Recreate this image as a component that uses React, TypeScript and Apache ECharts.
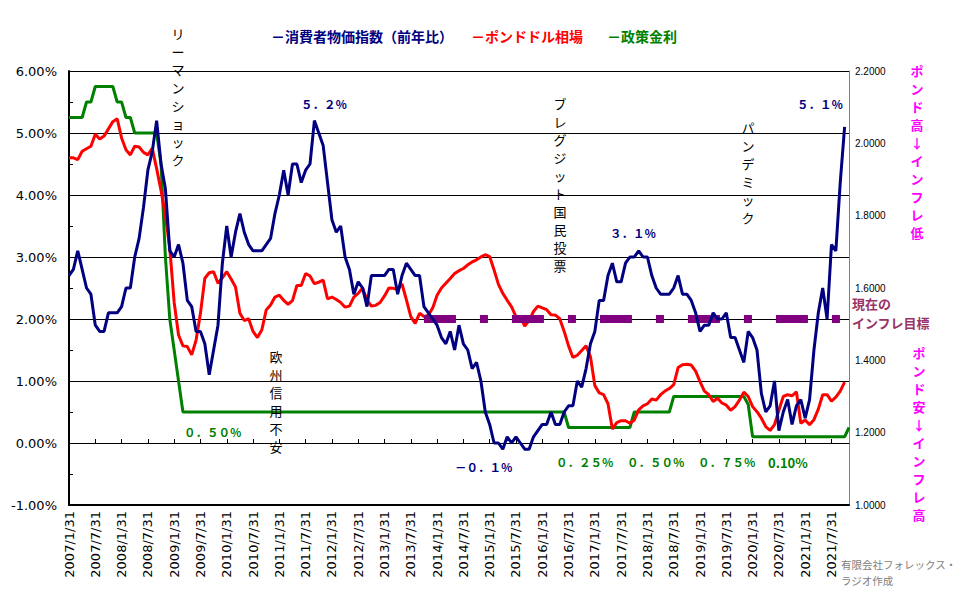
import React, { useEffect, useRef } from 'react';
import * as echarts from 'echarts';

// ---- categories: month-end dates 2007/1 .. 2021/11 ----
const firstYear = 2007;
const monthTotal = 179;
const categories: string[] = [];
for (let i = 0; i < monthTotal; i++) {
  const y = firstYear + Math.floor(i / 12);
  const m = (i % 12) + 1;
  const d = new Date(y, m, 0).getDate();
  categories.push(`${y}/${m}/${d}`);
}

// 消費者物価指数(前年比) %
const cpi: (number | null)[] = [
  2.7, 2.8, 3.1, 2.8, 2.5, 2.4, 1.9, 1.8, 1.8, 2.1, 2.1, 2.1,
  2.2, 2.5, 2.5, 3.0, 3.3, 3.8, 4.4, 4.7, 5.2, 4.5, 4.1, 3.1,
  3.0, 3.2, 2.9, 2.3, 2.2, 1.8, 1.8, 1.6, 1.1, 1.5, 1.9, 2.9,
  3.5, 3.0, 3.4, 3.7, 3.4, 3.2, 3.1, 3.1, 3.1, 3.2, 3.3, 3.7,
  4.0, 4.4, 4.0, 4.5, 4.5, 4.2, 4.4, 4.5, 5.2, 5.0, 4.8, 4.2,
  3.6, 3.4, 3.5, 3.0, 2.8, 2.4, 2.6, 2.5, 2.2, 2.7, 2.7, 2.7,
  2.7, 2.8, 2.8, 2.4, 2.7, 2.9, 2.8, 2.7, 2.7, 2.2, 2.1, 2.0,
  1.9, 1.7, 1.6, 1.8, 1.5, 1.9, 1.6, 1.5, 1.2, 1.3, 1.0, 0.5,
  0.3, 0.0, 0.0, -0.1, 0.1, 0.0, 0.1, 0.0, -0.1, -0.1, 0.1, 0.2,
  0.3, 0.3, 0.5, 0.3, 0.3, 0.5, 0.6, 0.6, 1.0, 0.9, 1.2, 1.6,
  1.8, 2.3, 2.3, 2.7, 2.9, 2.6, 2.6, 2.9, 3.0, 3.0, 3.1, 3.0,
  3.0, 2.7, 2.5, 2.4, 2.4, 2.4, 2.5, 2.7, 2.4, 2.4, 2.3, 2.1,
  1.8, 1.9, 1.9, 2.1, 2.0, 2.0, 2.1, 1.7, 1.7, 1.5, 1.3, 1.8,
  1.7, 1.5, 0.8, 0.5, 0.6, 1.0, 0.2, 0.5, 0.7, 0.3, 0.6, 0.7,
  0.4, 0.7, 1.5, 2.1, 2.5, 2.0, 3.2, 3.1, 4.2, 5.1, null,
];

// ポンドドル相場
const gbpusd: (number | null)[] = [
  1.960, 1.960, 1.955, 1.978, 1.985, 1.992, 2.025, 2.012, 2.020, 2.040, 2.060, 2.068,
  2.015, 1.982, 1.968, 1.992, 1.990, 1.975, 1.968, 1.986, 1.930, 1.870, 1.800, 1.710,
  1.560, 1.470, 1.440, 1.438, 1.415, 1.456, 1.530, 1.627, 1.642, 1.645, 1.613, 1.628,
  1.645, 1.625, 1.603, 1.530, 1.510, 1.515, 1.480, 1.463, 1.484, 1.539, 1.553, 1.575,
  1.580, 1.566, 1.555, 1.565, 1.607, 1.607, 1.640, 1.633, 1.612, 1.616, 1.622, 1.570,
  1.575, 1.568, 1.560, 1.547, 1.550, 1.575, 1.585, 1.600, 1.567, 1.550, 1.552, 1.560,
  1.578, 1.600, 1.599, 1.596, 1.611, 1.567, 1.521, 1.502, 1.530, 1.521, 1.525, 1.545,
  1.580, 1.600, 1.613, 1.626, 1.640, 1.648, 1.654, 1.664, 1.672, 1.678, 1.686, 1.692,
  1.687, 1.650, 1.610, 1.585, 1.566, 1.548, 1.521, 1.520, 1.495, 1.510, 1.535, 1.550,
  1.545, 1.540, 1.526, 1.525, 1.515, 1.480, 1.440, 1.408, 1.414, 1.427, 1.440, 1.410,
  1.330, 1.310, 1.305, 1.280, 1.210, 1.228, 1.233, 1.233, 1.226, 1.235, 1.263, 1.274,
  1.280, 1.293, 1.290, 1.305, 1.315, 1.322, 1.333, 1.380, 1.388, 1.389, 1.387, 1.370,
  1.341, 1.315, 1.305, 1.286, 1.295, 1.282, 1.276, 1.262, 1.272, 1.290, 1.312, 1.300,
  1.272, 1.258, 1.240, 1.217, 1.206, 1.222, 1.262, 1.300, 1.305, 1.302, 1.313, 1.226,
  1.235, 1.222, 1.236, 1.265, 1.305, 1.305, 1.287, 1.298, 1.315, 1.340, null,
];

// 政策金利 %
const bankRate: number[] = [
  5.25, 5.25, 5.25, 5.25, 5.5, 5.5, 5.75, 5.75, 5.75, 5.75, 5.75, 5.5,
  5.5, 5.25, 5.25, 5.0, 5.0, 5.0, 5.0, 5.0, 5.0, 4.5, 3.0, 2.0,
  1.5, 1.0, 0.5, 0.5, 0.5, 0.5, 0.5, 0.5, 0.5, 0.5, 0.5, 0.5,
  0.5, 0.5, 0.5, 0.5, 0.5, 0.5, 0.5, 0.5, 0.5, 0.5, 0.5, 0.5,
  0.5, 0.5, 0.5, 0.5, 0.5, 0.5, 0.5, 0.5, 0.5, 0.5, 0.5, 0.5,
  0.5, 0.5, 0.5, 0.5, 0.5, 0.5, 0.5, 0.5, 0.5, 0.5, 0.5, 0.5,
  0.5, 0.5, 0.5, 0.5, 0.5, 0.5, 0.5, 0.5, 0.5, 0.5, 0.5, 0.5,
  0.5, 0.5, 0.5, 0.5, 0.5, 0.5, 0.5, 0.5, 0.5, 0.5, 0.5, 0.5,
  0.5, 0.5, 0.5, 0.5, 0.5, 0.5, 0.5, 0.5, 0.5, 0.5, 0.5, 0.5,
  0.5, 0.5, 0.5, 0.5, 0.5, 0.5, 0.25, 0.25, 0.25, 0.25, 0.25, 0.25,
  0.25, 0.25, 0.25, 0.25, 0.25, 0.25, 0.25, 0.25, 0.25, 0.5, 0.5, 0.5,
  0.5, 0.5, 0.5, 0.5, 0.5, 0.5, 0.75, 0.75, 0.75, 0.75, 0.75, 0.75,
  0.75, 0.75, 0.75, 0.75, 0.75, 0.75, 0.75, 0.75, 0.75, 0.75, 0.75, 0.62,
  0.1, 0.1, 0.1, 0.1, 0.1, 0.1, 0.1, 0.1, 0.1, 0.1, 0.1, 0.1,
  0.1, 0.1, 0.1, 0.1, 0.1, 0.1, 0.1, 0.1, 0.1, 0.1, 0.25,
];

// 現在のインフレ目標
const targetRate = 2;
const targetFrom = '2013/10/31';
const targetTo = '2021/11/30';

const leftTicks = { min: -1, max: 6, interval: 1 };
const rightTicks = { min: 1, max: 2.2, interval: 0.2 };

const JP = '"Noto Sans CJK JP", sans-serif';
const NAVY = '#000080';
const GREEN = '#008000';
const MAGENTA = '#FF00FF';

function vText(str: string, cx: number, firstY: number, color: string, size: number, bold: boolean) {
  return {
    type: 'text',
    x: cx,
    y: firstY - 9,
    z: 100,
    style: {
      text: Array.from(str).join('\n'),
      align: 'center',
      verticalAlign: 'top',
      lineHeight: 18,
      fontSize: size,
      fontFamily: JP,
      fontWeight: bold ? 'bold' : 'normal',
      fill: color,
    },
  };
}

function hText(str: string, x: number, y: number, color: string, size: number, bold: boolean) {
  return {
    type: 'text',
    x,
    y,
    z: 100,
    style: {
      text: str,
      align: 'left',
      verticalAlign: 'middle',
      fontSize: size,
      fontFamily: JP,
      fontWeight: bold ? 'bold' : 'normal',
      fill: color,
    },
  };
}

export default function App() {
  const ref = useRef<HTMLDivElement>(null);
  useEffect(() => {
    if (!ref.current) return;
    const chart = echarts.init(ref.current, undefined, { renderer: 'svg' });
    chart.setOption({
      animation: false,
      backgroundColor: '#ffffff',
      grid: { left: 69, right: 115, top: 71, bottom: 95, containLabel: false },
      xAxis: [
        {
          type: 'category',
          data: categories,
          boundaryGap: false,
          position: 'bottom',
          axisLine: { onZero: false, lineStyle: { color: '#000', width: 2 } },
          axisTick: { show: false },
          axisLabel: {
            interval: 5,
            rotate: 90,
            fontSize: 13,
            fontFamily: '"DejaVu Sans", sans-serif',
            color: '#000',
            margin: 6,
          },
          splitLine: { show: false },
        },
        {
          type: 'category',
          data: categories,
          boundaryGap: false,
          position: 'bottom',
          axisLine: { onZero: true, lineStyle: { color: '#000', width: 1 } },
          axisTick: { show: true, interval: 5, inside: true, length: 4, lineStyle: { color: '#000' } },
          axisLabel: { show: false },
          splitLine: { show: false },
        },
      ],
      yAxis: [
        {
          type: 'value',
          position: 'left',
          min: leftTicks.min,
          max: leftTicks.max,
          interval: leftTicks.interval,
          axisLine: { show: true, onZero: false, lineStyle: { color: '#000', width: 2 } },
          axisTick: { show: true, inside: true, length: 4, lineStyle: { color: '#000' } },
          minorTick: { show: true, splitNumber: 2, length: 4, lineStyle: { color: '#000' } },
          axisLabel: {
            formatter: (v: number) => v.toFixed(2) + '%',
            fontSize: 13,
            fontFamily: '"DejaVu Sans", sans-serif',
            color: '#000',
            margin: 12,
          },
          splitLine: { show: true, lineStyle: { color: '#000', width: 1 } },
        },
        {
          type: 'value',
          position: 'right',
          min: rightTicks.min,
          max: rightTicks.max,
          interval: rightTicks.interval,
          axisLine: { show: true, onZero: false, lineStyle: { color: '#808080', width: 1 } },
          axisTick: { show: false },
          axisLabel: {
            formatter: (v: number) => v.toFixed(4),
            fontSize: 10,
            fontFamily: '"Liberation Sans", sans-serif',
            color: '#000',
            margin: 6,
          },
          splitLine: { show: false },
        },
      ],
      series: [
        {
          name: '政策金利',
          type: 'line',
          xAxisIndex: 0,
          yAxisIndex: 0,
          data: bankRate,
          symbol: 'none',
          lineStyle: { color: GREEN, width: 3 },
          itemStyle: { color: GREEN },
        },
        {
          name: 'ポンドドル相場',
          type: 'line',
          xAxisIndex: 0,
          yAxisIndex: 1,
          data: gbpusd,
          symbol: 'none',
          lineStyle: { color: '#FF0000', width: 3 },
          itemStyle: { color: '#FF0000' },
        },
        {
          name: '現在のインフレ目標',
          type: 'line',
          xAxisIndex: 0,
          yAxisIndex: 0,
          data: [
            [targetFrom, targetRate],
            [targetTo, targetRate],
          ],
          symbol: 'none',
          lineStyle: { color: '#800080', width: 8, type: [32, 24, 8, 24], cap: 'butt' },
          itemStyle: { color: '#800080' },
        },
        {
          name: '消費者物価指数(前年比)',
          type: 'line',
          xAxisIndex: 0,
          yAxisIndex: 0,
          data: cpi,
          symbol: 'none',
          lineStyle: { color: NAVY, width: 3 },
          itemStyle: { color: NAVY },
        },
      ],
      graphic: [
        // legend
        hText('－消費者物価指数（前年比）', 271, 36, NAVY, 14, true),
        hText('－ポンドドル相場', 471, 36, '#FF0000', 14, true),
        hText('－政策金利', 607, 36, GREEN, 14, true),
        // event annotations
        vText('リーマンショック', 178, 33, '#000', 13, false),
        vText('欧州信用不安', 276, 356, '#000', 13, false),
        vText('ブレグジット国民投票', 560, 103, '#000', 13, false),
        vText('パンデミック', 748, 127, '#000', 13, false),
        // value labels
        hText('５．２％', 301, 104, NAVY, 11.5, true),
        hText('５．１％', 797, 104, NAVY, 11.5, true),
        hText('３．１％', 610, 233, NAVY, 11.5, true),
        hText('－０．１％', 455, 467, NAVY, 11.5, true),
        hText('０．５０％', 184, 432, GREEN, 11.5, true),
        hText('０．２５％', 556, 462, GREEN, 11.5, true),
        hText('０．５０％', 627, 462, GREEN, 11.5, true),
        hText('０．７５％', 698, 462, GREEN, 11.5, true),
        hText('0.10%', 768, 462, GREEN, 13, true),
        // right side notes
        vText('ポンド高↓インフレ低', 917, 70, MAGENTA, 13, true),
        vText('ポンド安↓インフレ高', 919, 352, MAGENTA, 13, true),
        hText('現在の', 852, 303, '#993366', 13, true),
        hText('インフレ目標', 852, 322, '#993366', 13, true),
        // credit
        hText('有限会社フォレックス・', 841, 564, '#808080', 10.5, false),
        hText('ラジオ作成', 841, 580, '#808080', 10.5, false),
      ],
    });
    return () => chart.dispose();
  }, []);
  return (
    <div
      ref={ref}
      style={{ position: 'absolute', left: 0, top: 0, width: 964, height: 600, background: '#fff' }}
    />
  );
}
